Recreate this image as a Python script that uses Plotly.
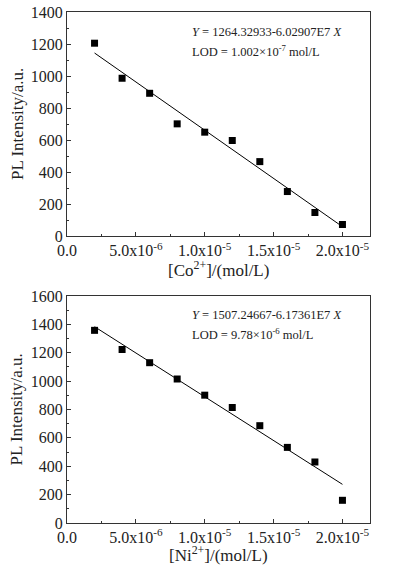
import numpy as np
import plotly.graph_objects as go
from plotly.subplots import make_subplots

# ---- data ----
conc = [2e-6, 4e-6, 6e-6, 8e-6, 1.0e-5, 1.2e-5, 1.4e-5, 1.6e-5, 1.8e-5, 2.0e-5]
co_intensity = [1205, 986, 892, 701, 649, 597, 465, 278, 147, 72]
ni_intensity = [1358, 1223, 1130, 1015, 901, 814, 686, 533, 430, 160]

co_intercept, co_slope = 1264.32933, -6.02907e7
ni_intercept, ni_slope = 1507.24667, -6.17361e7

x_tickvals = [0, 5e-6, 1.0e-5, 1.5e-5, 2.0e-5]
x_ticktext = ["0.0", "5.0x10<sup>-6</sup>", "1.0x10<sup>-5</sup>",
              "1.5x10<sup>-5</sup>", "2.0x10<sup>-5</sup>"]
co_label = "[Co<sup>2+</sup>]/(mol/L)"
ni_label = "[Ni<sup>2+</sup>]/(mol/L)"
y_label = "PL Intensity/a.u."
co_eq = ["<i>Y</i> = 1264.32933-6.02907E7 <i>X</i>", "LOD = 1.002×10<sup>-7</sup> mol/L"]
ni_eq = ["<i>Y</i> = 1507.24667-6.17361E7 <i>X</i>", "LOD = 9.78×10<sup>-6</sup> mol/L"]

FONT = "Liberation Serif, Times New Roman, serif"
TXT = "#222"

fig = make_subplots(rows=2, cols=1, vertical_spacing=0.0)

fit_x = [conc[0], conc[-1]]
for row, (vals, b0, b1) in enumerate([(co_intensity, co_intercept, co_slope),
                                       (ni_intensity, ni_intercept, ni_slope)], start=1):
    fig.add_trace(go.Scatter(x=conc, y=vals, mode="markers",
                             marker=dict(symbol="square", size=7, color="black"),
                             showlegend=False), row=row, col=1)
    fig.add_trace(go.Scatter(x=fit_x, y=[b0 + b1 * v for v in fit_x], mode="lines",
                             line=dict(color="black", width=1), showlegend=False),
                  row=row, col=1)

axis_common = dict(showline=True, linecolor="#333", linewidth=1, mirror=True,
                   ticks="inside", ticklen=4, tickcolor="#333", showgrid=False,
                   zeroline=False, automargin=False, ticklabeloverflow="allow",
                   tickfont=dict(family=FONT, size=16, color=TXT))

fig.update_xaxes(range=[0, 2.2e-5], tickvals=x_tickvals, ticktext=x_ticktext,
                 minor=dict(ticks="inside", ticklen=2, tickcolor="#333", dtick=2.5e-6,
                            tick0=0, showgrid=False),
                 **axis_common)
fig.update_yaxes(**axis_common)
fig.update_yaxes(range=[0, 1400], dtick=200, row=1, col=1,
                 minor=dict(ticks="inside", ticklen=2, tickcolor="#333", dtick=100, showgrid=False))
fig.update_yaxes(range=[0, 1600], dtick=200, row=2, col=1,
                 minor=dict(ticks="inside", ticklen=2, tickcolor="#333", dtick=100, showgrid=False))

fig.update_layout(
    width=395, height=571,
    margin=dict(l=67, r=25, t=12, b=48),
    plot_bgcolor="white", paper_bgcolor="white",
    yaxis=dict(domain=[0.5616, 1.0]),
    yaxis2=dict(domain=[0.0, 0.4442]),
)

for xr, yr, xlab, eq, xt_shift, l1, l2 in [("x", "y", co_label, co_eq, -33, -20, -39),
                                          ("x2", "y2", ni_label, ni_eq, -31, -19, -38)]:
    # axis titles
    fig.add_annotation(xref=f"{xr} domain", yref=f"{yr} domain", x=0.5, y=0,
                       yshift=xt_shift, xanchor="center", yanchor="middle",
                       text=xlab, showarrow=False,
                       font=dict(family=FONT, size=17, color=TXT))
    fig.add_annotation(xref=f"{xr} domain", yref=f"{yr} domain", x=0, y=0.5,
                       xshift=-50, xanchor="center", yanchor="middle", textangle=-90,
                       text=y_label, showarrow=False,
                       font=dict(family=FONT, size=17, color=TXT))
    # equation / LOD text
    for line, ys in zip(eq, (l1, l2)):
        fig.add_annotation(xref=f"{xr} domain", yref=f"{yr} domain", x=0.405, y=1,
                           yshift=ys, xanchor="left", yanchor="middle",
                           text=line, showarrow=False, align="left",
                           font=dict(family=FONT, size=12.5, color=TXT))

# remove the default 8px page margin so the figure fills the window exactly
fig.write_html("out.html", config={"displayModeBar": False},
               post_script="document.body.style.margin='0';")
